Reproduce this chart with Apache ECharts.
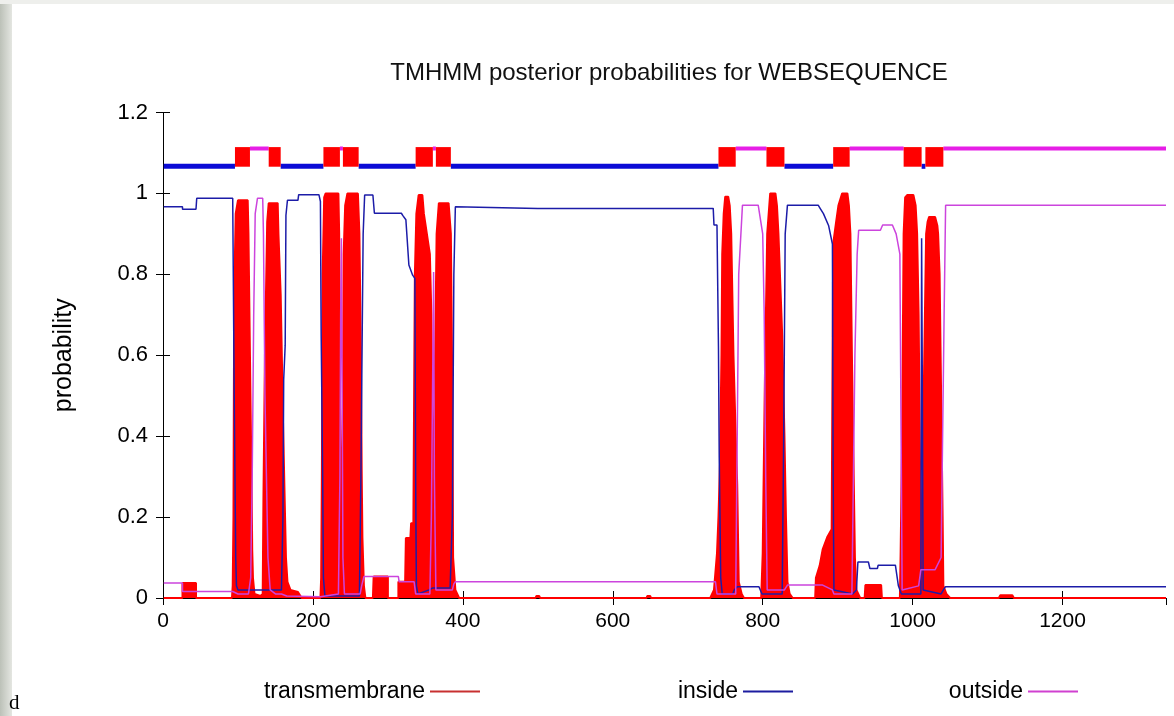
<!DOCTYPE html>
<html><head><meta charset="utf-8">
<script src="https://cdn.jsdelivr.net/npm/echarts@6/dist/echarts.min.js"></script>
<style>html,body{margin:0;padding:0;background:#fff}#c{width:1174px;height:716px}</style>
</head><body><div id="c"></div><script>
const chartTitle = 'TMHMM posterior probabilities for WEBSEQUENCE';
const seqLength = 1338;
const xTicks = [0, 200, 400, 600, 800, 1000, 1200];
const yTicks = [0, 0.2, 0.4, 0.6, 0.8, 1, 1.2];
const seriesNames = ['transmembrane', 'inside', 'outside'];

const transmembrane = [
  [1,0],[26,0],[26,0.037],[44,0.037],[44,0],
  [92,0],[93,0.03],[94,0.2],[95,0.75],[97,0.95],[100,0.983],[113,0.983],[114,0.9],[116,0.6],[117,0.445],[118,0.32],[119,0.12],[120,0.05],[122,0.01],[130,0.005],
  [133,0.01],[134,0.25],[136,0.6],[139,0.93],[141,0.976],[153,0.976],[154,0.9],[157,0.75],[159,0.55],[160,0.445],[162,0.27],[164,0.1],[166,0.04],[170,0.02],[180,0.015],[185,0],
  [210,0],[211,0.05],[212,0.32],[213,0.8],[215,0.99],[217,1.0],[234,1.0],[235,0.9],[236,0.5],[238,0.11],
  [240,0.5],[241,0.85],[243,0.97],[246,1.0],[260,1.0],[262,0.9],[264,0.6],[265,0.32],[266,0.15],[268,0.03],[270,0],
  [280,0],[281,0.053],[300,0.053],[300,0],
  [314,0],[314,0.04],[323,0.04],[324,0.148],[330,0.148],[331,0.185],[334,0.185],[335,0.5],[336,0.8],[338,0.95],[341,0.996],[346,0.996],[348,0.95],[352,0.9],[356,0.85],[358,0.7],[361,0.19],
  [363,0.6],[365,0.9],[368,0.976],[381,0.976],[384,0.9],[386,0.5],[387,0.1],[390,0.02],[395,0],
  [497,0],[498,0.005],[502,0.005],[503,0],[645,0],[646,0.005],[650,0.005],[651,0],
  [730,0],[735,0.02],[739,0.11],[741,0.2],[743,0.33],[745,0.6],[746,0.85],[748,0.95],[750,0.992],[754,0.992],[756,0.97],[758,0.9],[761,0.6],[764,0.4],[766,0.28],[768,0.04],[772,0.01],[775,0],
  [798,0],[800,0.11],[803,0.55],[806,0.9],[810,1.0],[817,1.0],[819,0.97],[821,0.9],[824,0.75],[826,0.65],[829,0.4],[831,0.2],[833,0.04],[836,0.01],[840,0],
  [870,0],[871,0.05],[876,0.08],[880,0.12],[886,0.15],[892,0.17],[894,0.875],[898,0.93],[901,0.97],[906,1.0],[913,1.0],[915,0.97],[917,0.9],[919,0.6],[921,0.35],[923,0.1],[925,0.02],[930,0],
  [936,0],[937,0.032],[958,0.032],[959,0],
  [983,0],[984,0.11],[986,0.4],[988,0.9],[990,0.99],[993,0.996],[1001,0.996],[1004,0.97],[1006,0.9],[1008,0.7],[1010,0.3],[1012,0.08],
  [1014,0.4],[1016,0.65],[1018,0.9],[1020,0.93],[1022,0.942],[1030,0.942],[1033,0.92],[1034,0.9],[1036,0.8],[1038,0.5],[1040,0.2],[1041,0.03],[1045,0.01],[1050,0],
  [1115,0],[1117,0.007],[1133,0.007],[1135,0],[1338,0]
];

const inside = [
  [1,0.967],[26,0.967],[26,0.961],[44,0.961],[45,0.988],[93,0.988],[94,0.741],[95,0.5],[97,0.1],[98,0.03],[100,0.02],[150,0.02],[158,0.02],[160,0.2],[161,0.54],[163,0.625],[164,0.946],[166,0.983],[180,0.983],[181,0.997],[208,0.997],[210,0.98],[211,0.65],[213,0.3],[214,0.05],[216,0.005],
  [262,0.005],[264,0.3],[266,0.707],[267,0.9],[269,0.996],[280,0.996],[282,0.951],[318,0.951],[320,0.945],[324,0.935],[328,0.823],[333,0.798],[336,0.79],[337,0.3],[338,0.03],[340,0.01],[355,0.02],[360,0.025],[383,0.025],[386,0.2],[388,0.8],[390,0.967],
  [500,0.963],[734,0.963],[735,0.922],[739,0.922],[741,0.618],[742,0.35],[744,0.05],[746,0.01],[760,0.01],[762,0.02],[766,0.028],[795,0.028],[799,0.01],
  [826,0.01],[828,0.4],[830,0.9],[833,0.971],[874,0.971],[877,0.962],[881,0.95],[888,0.92],[893,0.875],[894,0.3],[895,0.02],[920,0.01],[925,0.02],[927,0.089],[941,0.089],[943,0.073],[953,0.073],[954,0.081],[977,0.081],[981,0.03],[985,0.01],
  [1011,0.01],[1012,0.889],[1013,0.5],[1014,0.02],[1038,0.01],[1041,0.02],[1044,0.028],[1338,0.028]
];

const outside = [
  [1,0.037],[26,0.037],[26,0.016],[93,0.016],[100,0.01],[114,0.01],[117,0.05],[119,0.3],[121,0.7],[123,0.95],[126,0.988],[133,0.988],[134,0.9],[136,0.5],[140,0.1],[143,0.02],[150,0.01],[158,0.01],[165,0.005],
  [210,0.003],[234,0.01],[236,0.3],[237,0.7],[238,0.889],[239,0.5],[240,0.1],[242,0.01],[263,0.01],[265,0.03],[268,0.053],[314,0.053],[315,0.04],[335,0.04],[337,0.01],
  [356,0.01],[358,0.2],[360,0.6],[361,0.806],[362,0.3],[364,0.02],[386,0.02],[388,0.035],[390,0.04],[734,0.04],[737,0.04],[739,0.01],
  [764,0.01],[766,0.4],[768,0.8],[773,0.971],[794,0.971],[800,0.9],[802,0.7],[804,0.3],[806,0.02],[829,0.02],[833,0.032],[880,0.032],[893,0.02],[895,0.01],
  [919,0.01],[921,0.3],[923,0.6],[926,0.85],[928,0.909],[957,0.909],[960,0.922],[973,0.922],[978,0.9],[983,0.85],[985,0.3],[986,0.02],
  [1008,0.03],[1011,0.07],[1030,0.07],[1038,0.1],[1040,0.4],[1042,0.7],[1044,0.971],[1338,0.971]
];

// top band: predicted topology segments [start, end]
const tmSegments = [[96,116],[141,157],[214,236],[240,261],[337,360],[364,384],[741,764],[805,829],[894,916],[988,1012],[1017,1041]];
const insideSegments = [[1,96],[157,214],[261,337],[384,741],[829,894],[1012,1017]];
const outsideSegments = [[116,141],[236,240],[360,364],[764,805],[916,988],[1041,1338]];

const FONT = '"Liberation Sans", Arial, sans-serif';
const bandData = [];
insideSegments.forEach(s => bandData.push([s[0], s[1], 1]));
outsideSegments.forEach(s => bandData.push([s[0], s[1], 2]));
tmSegments.forEach(s => bandData.push([s[0], s[1], 0]));

function renderBand(params, api) {
  const s = api.value(0), e = api.value(1), kind = api.value(2);
  if (kind === 0) {
    const p1 = api.coord([s, 1.1145]), p2 = api.coord([e, 1.066]);
    return {type: 'rect', shape: {x: p1[0], y: p1[1], width: p2[0] - p1[0], height: p2[1] - p1[1]}, style: {fill: '#ff0000'}};
  }
  const lvl = kind === 1 ? 1.067 : 1.111;
  const h = kind === 1 ? 5 : 4;
  const p1 = api.coord([s, lvl]), p2 = api.coord([e, lvl]);
  return {type: 'rect', shape: {x: p1[0], y: p1[1] - h / 2, width: p2[0] - p1[0], height: h},
    style: {fill: kind === 1 ? '#0b0bd6' : '#e61ee6'}};
}

const chart = echarts.init(document.getElementById('c'), null, {renderer: 'canvas'});
const axisCommon = {
  min: 0, axisLine: {show: true, lineStyle: {color: '#000', width: 1}},
  axisTick: {show: true, inside: true, length: 7, lineStyle: {color: '#000'}},
  splitLine: {show: false}
};
const legendCommon = {top: 680, align: 'right', itemWidth: 50, itemHeight: 2, icon: 'rect', padding: 0,
  textStyle: {fontSize: 23, fontFamily: FONT, color: '#000'}, selectedMode: false};

chart.setOption({
  backgroundColor: '#ffffff',
  animation: false,
  title: {text: chartTitle, left: 664, textAlign: 'center', top: 56,
    textStyle: {fontSize: 24, fontWeight: 'normal', fontFamily: FONT, color: '#111'}},
  grid: {left: 163, right: 8, top: 112.5, bottom: 118},
  xAxis: [
    Object.assign({}, axisCommon, {type: 'value', max: seqLength, interval: 200, position: 'bottom',
      axisLabel: {show: true, showMaxLabel: false, margin: 13, fontSize: 21, fontFamily: FONT, color: '#000',
        formatter: v => xTicks.indexOf(v) >= 0 ? String(v) : ''}}),
    Object.assign({}, axisCommon, {type: 'value', max: seqLength, interval: 200, position: 'top', axisLabel: {show: false}})
  ],
  yAxis: [
    Object.assign({}, axisCommon, {type: 'value', max: 1.2, interval: 0.2, position: 'left',
      name: 'probability', nameLocation: 'middle', nameGap: 86,
      nameTextStyle: {fontSize: 25, fontFamily: FONT, color: '#000'},
      axisLabel: {show: true, margin: 15, fontSize: 22, fontFamily: FONT, color: '#000',
        formatter: v => { const t = yTicks.find(k => Math.abs(k - v) < 1e-9); return t === undefined ? '' : String(t); }}}),
    Object.assign({}, axisCommon, {type: 'value', max: 1.2, interval: 0.2, position: 'right', axisLabel: {show: false}})
  ],
  legend: [
    Object.assign({}, legendCommon, {right: 694, data: [{name: seriesNames[0], itemStyle: {color: '#c83030'}}]}),
    Object.assign({}, legendCommon, {right: 381, data: [{name: seriesNames[1], itemStyle: {color: '#1c1ca0'}}]}),
    Object.assign({}, legendCommon, {right: 96, data: [{name: seriesNames[2], itemStyle: {color: '#d040d0'}}]})
  ],
  graphic: [
    {type: 'rect', left: 0, top: 0, shape: {width: 12, height: 716}, z: -10,
      style: {fill: new echarts.graphic.LinearGradient(0, 0, 1, 0, [{offset: 0, color: '#bcc1b8'}, {offset: 1, color: '#e4e6e1'}])}},
    {type: 'rect', left: 0, top: 0, shape: {width: 1174, height: 4}, z: -10, style: {fill: '#eeefec'}},
    {type: 'text', left: 9, top: 693, style: {text: 'd', fontSize: 21, fontFamily: '"Liberation Serif", "DejaVu Serif", serif', fill: '#000'}}
  ],
  series: [
    {name: seriesNames[0], type: 'line', data: transmembrane, showSymbol: false, z: 2,
      color: '#ff0000', lineStyle: {color: '#ff0000', width: 2}, areaStyle: {color: '#ff0000', opacity: 1}},
    {name: seriesNames[1], type: 'line', data: inside, showSymbol: false, z: 3,
      color: '#1c1ca8', lineStyle: {color: '#1c1ca8', width: 1.5}},
    {name: seriesNames[2], type: 'line', data: outside, showSymbol: false, z: 3,
      color: '#cc44dd', lineStyle: {color: '#cc44dd', width: 1.5}},
    {name: 'topology', type: 'custom', data: bandData, renderItem: renderBand, z: 4, clip: false,
      encode: {x: [0, 1], y: 2}}
  ]
});
</script></body></html>
